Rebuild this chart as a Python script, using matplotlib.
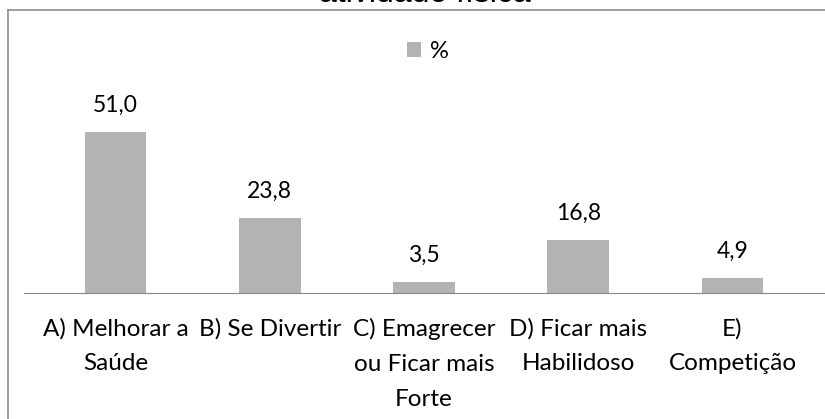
import numpy as np
import matplotlib.pyplot as plt
from matplotlib.lines import Line2D

categorias = ['A) Melhorar a\nSaúde', 'B) Se Divertir', 'C) Emagrecer\nou Ficar mais\nForte',
              'D) Ficar mais\nHabilidoso', 'E)\nCompetição']
valores = [51.0, 23.8, 3.5, 16.8, 4.9]
rotulos = ['51,0', '23,8', '3,5', '16,8', '4,9']

W, H = 825, 419
fonte = 'Lato'
fig = plt.figure(figsize=(W / 100, H / 100), dpi=100)

# caixa cinza da área do gráfico (cortada na imagem)
fig.add_artist(Line2D([8 / W, 8 / W], [0, 1 - 10 / H], color='#8c8c8c', lw=1.2))
fig.add_artist(Line2D([8 / W, 1], [1 - 10 / H, 1 - 10 / H], color='#8c8c8c', lw=1.2))

# título cortado no topo
fig.text(0.515, 1 - 2 / H, 'atividade física', ha='center', va='baseline',
         fontsize=23, family='Liberation Sans', color='black')

ax = fig.add_axes([24 / W, 1 - 293 / H, 1 - 24 / W, (293 - 25) / H])
x = np.arange(len(valores))
ax.bar(x, valores, width=0.40, color='#b3b3b3', label='%')
ax.set_xlim((24 - 115.5) / 154.25, (825 - 115.5) / 154.25)
ax.set_ylim(0, (293 - 25) / 3.157)

for xi, v, r in zip(x, valores, rotulos):
    ax.annotate(r, (xi, v), xytext=(0, 14.5), textcoords='offset points',
                ha='center', va='baseline', fontsize=16.5, family=fonte)

for s in ['left', 'right', 'top']:
    ax.spines[s].set_visible(False)
ax.spines['bottom'].set_color('#868686')
ax.set_yticks([])
ax.set_xticks(x)
ax.set_xticklabels(categorias, fontsize=17.5, family=fonte, linespacing=1.82)
ax.tick_params(axis='x', length=0, pad=18)

ax.legend(loc='center', bbox_to_anchor=(428 / W, 1 - 51 / H), bbox_transform=fig.transFigure,
          frameon=False, handlelength=0.6, handleheight=0.6, handletextpad=0.4,
          prop={'family': fonte, 'size': 17})

fig.savefig('out.png', dpi=100)
